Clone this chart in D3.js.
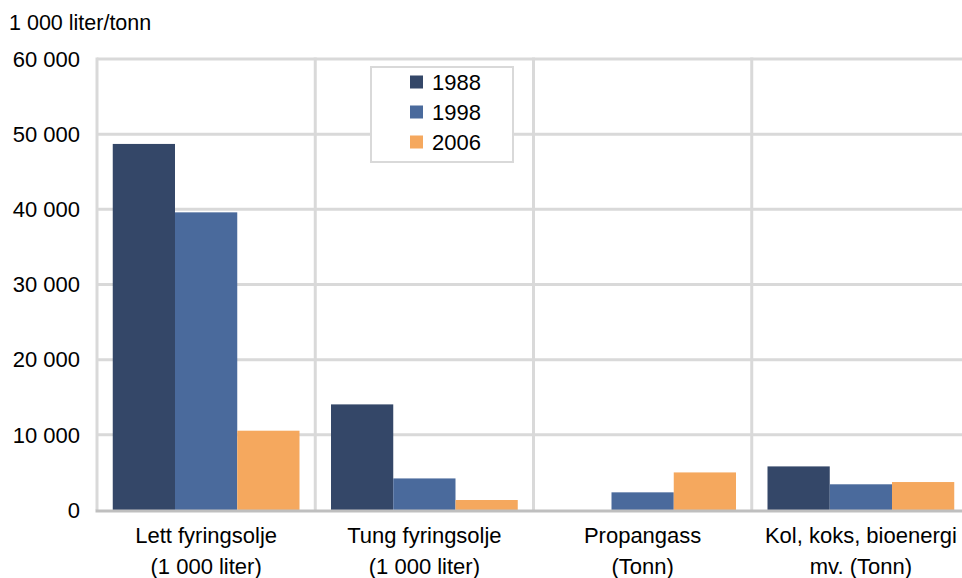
<!DOCTYPE html>
<html>
<head>
<meta charset="utf-8">
<script src="https://cdn.jsdelivr.net/npm/d3@7"></script>
<style>
  html, body { margin: 0; padding: 0; background: #fff; }
  svg { display: block; font-family: "Liberation Sans", Arial, sans-serif; }
</style>
</head>
<body>
<svg id="chart" width="962" height="578"></svg>
<script>
const categories = [
  ["Lett fyringsolje", "(1 000 liter)"],
  ["Tung fyringsolje", "(1 000 liter)"],
  ["Propangass", "(Tonn)"],
  ["Kol, koks, bioenergi", "mv. (Tonn)"]
];
const years = ["1988", "1998", "2006"];
const values1988 = [48700, 14050, 0, 5800];
const values1998 = [39600, 4200, 2350, 3420];
const values2006 = [10550, 1330, 5000, 3720];
const yTicks = [0, 10000, 20000, 30000, 40000, 50000, 60000];
const yTitle = "1 000 liter/tonn";
const colors = ["#344768", "#4a6a9c", "#f5a85e"];

(function () {
const series = [values1988, values1998, values2006];
const svg = d3.select("#chart");

const mLeft = 97, mRight = 970, mTop = 59, mBottom = 510;
const catKeys = categories.map((c, i) => i);
const x0 = d3.scaleBand().domain(catKeys).range([mLeft, mRight]).padding(0);
const x1 = d3.scaleBand().domain(years).range([0, x0.bandwidth()]).paddingInner(0).paddingOuter(0.253);
const y = d3.scaleLinear().domain([0, 60000]).range([mBottom, mTop]);

const fmt = v => d3.format(",")(v).replace(/,/g, " ");

// horizontal gridlines
svg.append("g").selectAll("line").data(yTicks.filter(t => t > 0)).join("line")
  .attr("x1", mLeft).attr("x2", mRight)
  .attr("y1", d => y(d)).attr("y2", d => y(d))
  .attr("stroke", "#d9d9d9").attr("stroke-width", 3);

// vertical gridlines at category boundaries
const bounds = catKeys.map(k => x0(k)).concat([mRight]);
svg.append("g").selectAll("line").data(bounds).join("line")
  .attr("x1", d => d).attr("x2", d => d)
  .attr("y1", y(60000) - 1.5).attr("y2", mBottom)
  .attr("stroke", "#d9d9d9").attr("stroke-width", 3);

// bars
const groups = svg.append("g").selectAll("g").data(catKeys).join("g")
  .attr("transform", k => `translate(${x0(k)},0)`);
groups.selectAll("rect")
  .data(k => years.map((yr, i) => ({ yr, i, v: series[i][k] })).filter(d => d.v > 0))
  .join("rect")
  .attr("x", d => x1(d.yr))
  .attr("width", x1.bandwidth())
  .attr("y", d => y(d.v))
  .attr("height", d => y(0) - y(d.v))
  .attr("fill", d => colors[d.i]);

// zero axis line
svg.append("line")
  .attr("x1", mLeft - 1.5).attr("x2", mRight)
  .attr("y1", y(0) + 1).attr("y2", y(0) + 1)
  .attr("stroke", "#bfbfbf").attr("stroke-width", 3);

// y tick labels
svg.append("g").selectAll("text").data(yTicks).join("text")
  .attr("x", 80).attr("y", d => y(d))
  .attr("dy", "0.35em")
  .attr("text-anchor", "end")
  .attr("font-size", 22)
  .attr("fill", "#000")
  .text(d => fmt(d));

// y title
svg.append("text")
  .attr("x", 9).attr("y", 22).attr("dy", "0.35em")
  .attr("font-size", 21.5).attr("fill", "#000")
  .text(yTitle);

// category labels
const lab = svg.append("g").selectAll("text").data(catKeys).join("text")
  .attr("text-anchor", "middle")
  .attr("font-size", 22).attr("fill", "#000");
lab.each(function(k) {
  const t = d3.select(this);
  const cx = x0(k) + x0.bandwidth() / 2;
  categories[k].forEach((line, j) => {
    t.append("tspan").attr("x", cx).attr("y", 535 + j * 31).attr("dy", "0.35em").text(line);
  });
});

// legend
const lg = svg.append("g");
lg.append("rect")
  .attr("x", 371).attr("y", 67).attr("width", 142).attr("height", 95)
  .attr("fill", "#fff").attr("stroke", "#d9d9d9").attr("stroke-width", 2);
const items = lg.selectAll("g.item").data(years).join("g").attr("class", "item")
  .attr("transform", (d, i) => `translate(410,${82 + i * 30})`);
items.append("rect").attr("x", 0).attr("y", -6.5).attr("width", 13).attr("height", 13)
  .attr("fill", (d, i) => colors[i]);
items.append("text").attr("x", 22).attr("y", 0).attr("dy", "0.35em")
  .attr("font-size", 22).attr("fill", "#000").text(d => d);
})();
</script>
</body>
</html>
